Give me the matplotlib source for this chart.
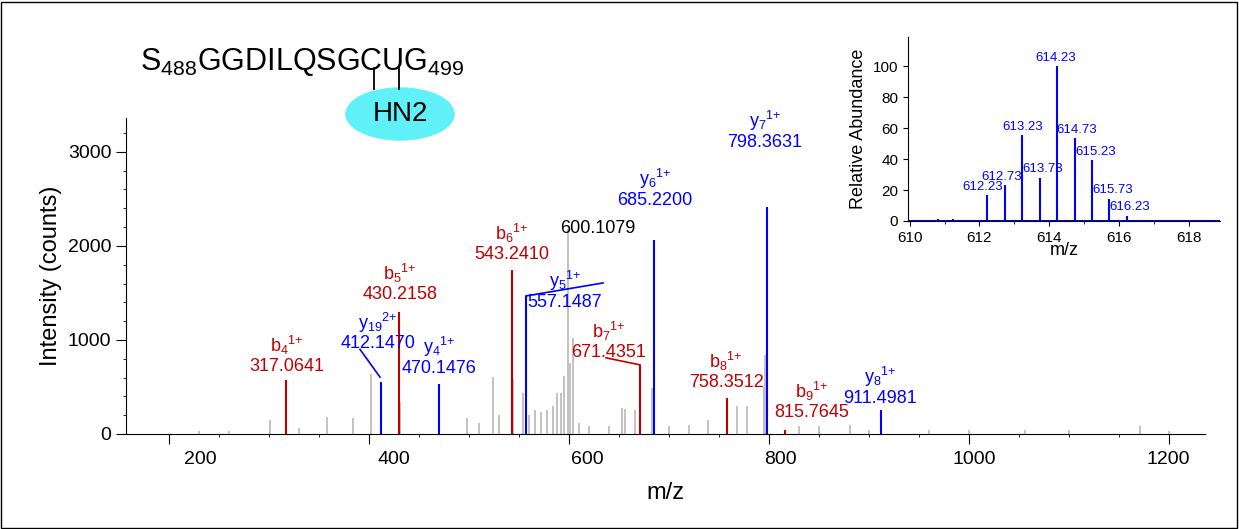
import matplotlib.pyplot as plt
from matplotlib.patches import Ellipse

# annotated fragment ions: (m/z, intensity, colour)
ion_mz = [317.06, 412.15, 430.22, 470.15, 543.24, 557.15, 671.44, 685.22, 758.35, 798.36, 815.76, 911.50]
ion_int = [575, 553, 1300, 530, 1745, 1468, 735, 2065, 385, 2415, 40, 255]
ion_col = ['r', 'b', 'r', 'b', 'r', 'b', 'r', 'b', 'r', 'b', 'r', 'b']
ion_name = ['b$_4$$^{1{+}}$', 'y$_{19}$$^{2{+}}$', 'b$_5$$^{1{+}}$', 'y$_4$$^{1{+}}$', 'b$_6$$^{1{+}}$',
            'y$_5$$^{1{+}}$', 'b$_7$$^{1{+}}$', 'y$_6$$^{1{+}}$', 'b$_8$$^{1{+}}$', 'y$_7$$^{1{+}}$',
            'b$_9$$^{1{+}}$', 'y$_8$$^{1{+}}$']
ion_lbl = ['317.0641', '412.1470', '430.2158', '470.1476', '543.2410', '557.1487',
           '671.4351', '685.2200', '758.3512', '798.3631', '815.7645', '911.4981']
lbl_x = [318, 409, 431, 470, 543, 596, 640, 686, 757, 796, 843, 911]
lbl_y = [630, 870, 1395, 610, 1820, 1310, 780, 2395, 460, 3010, 140, 290]

# unassigned peaks (grey)
grey_mz = [230, 260, 301, 330, 358, 384, 402, 431, 470, 498, 510, 524, 530, 544, 554, 560, 566,
           572, 578, 584, 588, 592, 595, 599, 601, 604, 610, 620, 640, 653, 656, 666, 683, 700,
           720, 739, 768, 778, 795, 796, 830, 850, 881, 900, 960, 1000, 1056, 1100, 1171, 1200]
grey_int = [30, 30, 150, 60, 180, 170, 640, 340, 80, 170, 120, 605, 200, 590, 440, 200, 250,
            230, 260, 300, 440, 440, 620, 2180, 755, 1020, 120, 80, 90, 280, 270, 260, 490, 80,
            100, 150, 300, 300, 500, 840, 80, 80, 100, 40, 40, 40, 40, 40, 80, 30]

# inset isotope envelope
iso_mz = [610.8, 611.25, 611.75, 612.23, 612.73, 613.23, 613.73, 614.23, 614.73, 615.23, 615.73, 616.23, 616.75]
iso_int = [1, 1.5, 0.6, 16.5, 23, 55.5, 28, 100, 53.5, 39.5, 14.5, 3.5, 0.8]
iso_lbl = ['', '', '', '612.23', '612.73', '613.23', '613.73', '614.23', '614.73', '615.23', '615.73', '616.23', '']
iso_dx = [0, 0, 0, -0.13, -0.09, 0, 0.08, -0.05, 0.05, 0.11, 0.1, 0.07, 0]

tick_vals = [200, 400, 600, 800, 1000, 1200]

plt.rcParams['font.family'] = 'Liberation Sans'
plt.rcParams['mathtext.default'] = 'regular'
fig = plt.figure(figsize=(12.39, 5.29), dpi=100)
fig.patches.append(plt.Rectangle((0.001, 0.002), 0.997, 0.995, transform=fig.transFigure,
                                 fill=False, ec='k', lw=1))

ax = fig.add_axes([126 / 1239, 95 / 529, 1079 / 1239, 316 / 529])
ax.vlines(grey_mz, 0, grey_int, color='#bdbdbd', lw=1.3)
colmap = {'r': '#c00000', 'b': '#0000ff'}
for m, h, c, n, l, lx, ly in zip(ion_mz, ion_int, ion_col, ion_name, ion_lbl, lbl_x, lbl_y):
    ax.vlines(m, 0, h, color=colmap[c], lw=1.5)
    ax.text(lx, ly, n + '\n' + l, color=colmap[c], fontsize=13, ha='center', va='bottom',
            linespacing=1.05)
# leader lines
ax.plot([411, 391], [605, 900], color='b', lw=1.2)
ax.plot([557, 634], [1468, 1606], color='b', lw=1.2)
ax.plot([671, 637], [735, 810], color='#c00000', lw=1.2)
ax.text(629, 2095, '600.1079', fontsize=13, ha='center', va='bottom')

ax.set_xlim(157, 1236)
ax.set_ylim(0, 3360)
ax.set_xticks(tick_vals, [''] * len(tick_vals))
ax.set_xticks(range(250, 1236, 50), minor=True)
for v in tick_vals:
    ax.annotate(str(v), (231 + (v - 200) * 0.968, 0), xycoords=('data', 'axes fraction'),
                xytext=(0, -12), textcoords='offset points', ha='center', va='top', fontsize=14)
ax.set_yticks([0, 1000, 2000, 3000])
ax.set_yticks(range(0, 3400, 200), minor=True)
ax.tick_params(labelsize=14, direction='out')
ax.tick_params(which='major', length=7)
ax.spines['top'].set_visible(False)
ax.spines['right'].set_visible(False)
ax.set_xlabel('m/z', fontsize=17, labelpad=24)
ax.set_ylabel('Intensity (counts)', fontsize=17)

# peptide sequence and modification
fig.text(140 / 1239, 1 - 62 / 529, 'S$_{488}$GGDILQSGCUG$_{499}$', fontsize=22, va='center')
fig.add_artist(Ellipse((400 / 1239, 1 - 114 / 529), 108 / 1239, 52 / 529, color='#5ff0f8',
                       transform=fig.transFigure))
fig.text(400 / 1239, 1 - 114 / 529, 'HN2', fontsize=20, ha='center', va='center')
for px in [374, 399]:
    fig.add_artist(plt.Line2D([px / 1239, px / 1239], [1 - 68 / 529, 1 - 89 / 529], color='k',
                              lw=1.3, transform=fig.transFigure))

ins = fig.add_axes([908 / 1239, 1 - 221 / 529, 312 / 1239, 184 / 529])
ins.vlines(iso_mz, 0, iso_int, color='b', lw=1.5)
ins.axhline(0, color='b', lw=1.5)
for m, h, l, d in zip(iso_mz, iso_int, iso_lbl, iso_dx):
    if l:
        ins.text(m + d, h + 1.5, l, color='b', fontsize=9.5, ha='center', va='bottom')
ins.set_xlim(609.95, 618.9)
ins.set_ylim(0, 119)
ins.set_xticks([610, 612, 614, 616, 618])
ins.set_xticks(range(610, 619), minor=True)
ins.set_yticks([0, 20, 40, 60, 80, 100])
ins.tick_params(labelsize=11)
ins.spines['top'].set_visible(False)
ins.spines['right'].set_visible(False)
ins.set_xlabel('m/z', fontsize=13, labelpad=-2)
ins.set_ylabel('Relative Abundance', fontsize=13)

fig.savefig('out.png')
